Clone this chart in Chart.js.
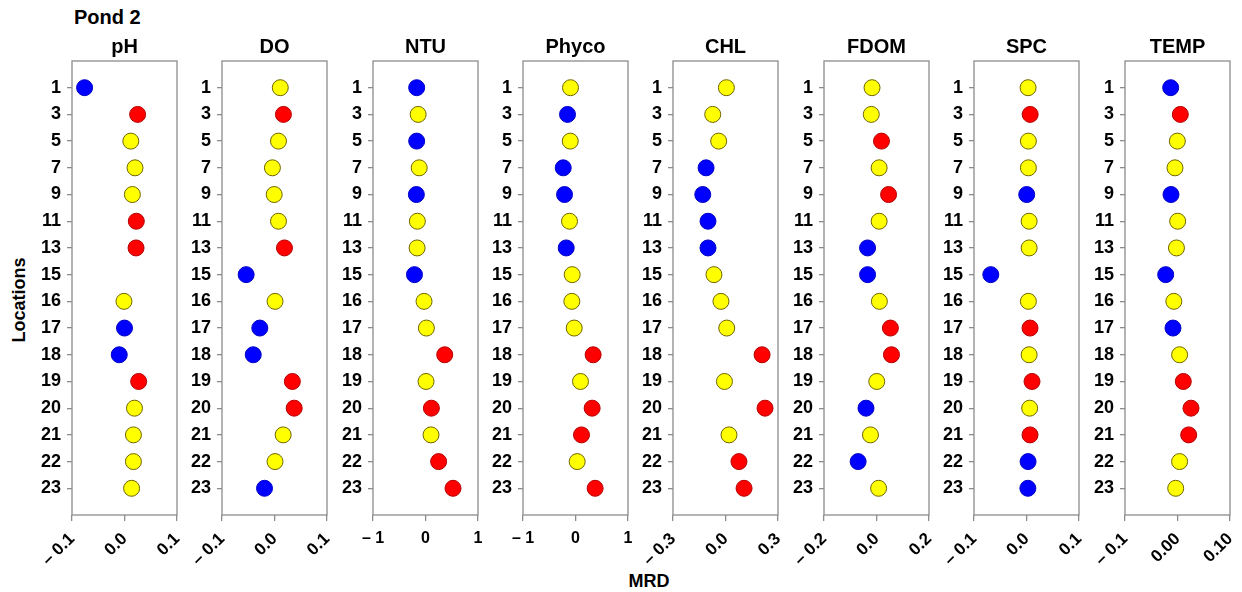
<!DOCTYPE html>
<html>
<head>
<meta charset="utf-8">
<script src="https://cdn.jsdelivr.net/npm/chart.js@4"></script>
<style>
  body { margin:0; background:#fff; font-family:"Liberation Sans", Arial, sans-serif; }
  #lienzo { position:relative; width:1242px; height:592px; overflow:hidden; }
  .panel { position:absolute; top:0; }
  .texto { position:absolute; font-weight:bold; color:#000; white-space:nowrap; }
</style>
</head>
<body>
<div id="lienzo">
  <div class="texto" style="left:74px; top:6px; font-size:20px;">Pond 2</div>
  <div class="texto" style="left:19px; top:300px; font-size:18px; transform:translate(-50%,-50%) rotate(-90deg);">Locations</div>
  <div class="texto" style="left:649px; top:581px; font-size:18px; transform:translate(-50%,-50%);">MRD</div>
</div>
<script>
// ubicaciones (eje y)
const ubicaciones = ['1','3','5','7','9','11','13','15','16','17','18','19','20','21','22','23']

// MRD por variable (null = sin dato)
const mrd_pH    = [-0.076, 0.025, 0.012, 0.020, 0.015, 0.0225, 0.022, null, -0.001, 0.000, -0.010, 0.027, 0.019, 0.017, 0.017, 0.0135]
const mrd_DO    = [0.011, 0.017, 0.0076, -0.004, -0.0006, 0.0076, 0.019, -0.054, 0.001, -0.028, -0.0405, 0.034, 0.0375, 0.0165, 0.001, -0.019]
const mrd_NTU   = [-0.168, -0.14, -0.168, -0.12, -0.174, -0.155, -0.16, -0.21, -0.028, 0.017, 0.366, 0.01, 0.112, 0.105, 0.25, 0.524]
const mrd_Phyco = [-0.095, -0.152, -0.10, -0.234, -0.209, -0.114, -0.177, -0.063, -0.07, -0.025, 0.336, 0.095, 0.317, 0.114, 0.032, 0.374]
const mrd_CHL   = [0.005, -0.073, -0.039, -0.111, -0.130, -0.1, -0.1, -0.066, -0.026, 0.007, 0.209, -0.006, 0.226, 0.02, 0.077, 0.106]
const mrd_FDOM  = [-0.017, -0.02, 0.019, 0.01, 0.046, 0.01, -0.034, -0.034, 0.011, 0.053, 0.057, 0.001, -0.04, -0.023, -0.07, 0.008]
const mrd_SPC   = [0.003, 0.007, 0.0036, 0.0036, 0.0004, 0.005, 0.005, -0.068, 0.0036, 0.0067, 0.005, 0.0105, 0.006, 0.0067, 0.003, 0.0026]
const mrd_TEMP  = [-0.013, 0.0054, -0.0003, -0.0048, -0.0124, 0.0003, -0.002, -0.0225, -0.007, -0.0086, 0.004, 0.011, 0.0257, 0.0213, 0.004, -0.0034]

// grupo: -1 = bajo, 0 = normal, 1 = alto
const grupo_pH    = [-1, 1, 0, 0, 0, 1, 1, null, 0, -1, -1, 1, 0, 0, 0, 0]
const grupo_DO    = [0, 1, 0, 0, 0, 0, 1, -1, 0, -1, -1, 1, 1, 0, 0, -1]
const grupo_NTU   = [-1, 0, -1, 0, -1, 0, 0, -1, 0, 0, 1, 0, 1, 0, 1, 1]
const grupo_Phyco = [0, -1, 0, -1, -1, 0, -1, 0, 0, 0, 1, 0, 1, 1, 0, 1]
const grupo_CHL   = [0, 0, 0, -1, -1, -1, -1, 0, 0, 0, 1, 0, 1, 0, 1, 1]
const grupo_FDOM  = [0, 0, 1, 0, 1, 0, -1, -1, 0, 1, 1, 0, -1, 0, -1, 0]
const grupo_SPC   = [0, 1, 0, 0, -1, 0, 0, -1, 0, 1, 0, 1, 0, 1, -1, -1]
const grupo_TEMP  = [-1, 1, 0, 0, -1, 0, 0, -1, 0, -1, 0, 1, 1, 1, 0, 0]

// titulos y ejes x
const titulos = ['pH','DO','NTU','Phyco','CHL','FDOM','SPC','TEMP']
const ticks_x = [
    [-0.1, 0, 0.1], [-0.1, 0, 0.1], [-1, 0, 1], [-1, 0, 1],
    [-0.3, 0, 0.3], [-0.2, 0, 0.2], [-0.1, 0, 0.1], [-0.1, 0, 0.1]
]
const etiquetas_x = [
    ['\u2013 0.1','0.0','0.1'], ['\u2013 0.1','0.0','0.1'], ['\u2013 1','0','1'], ['\u2013 1','0','1'],
    ['\u2013 0.3','0.0','0.3'], ['\u2013 0.2','0.0','0.2'], ['\u2013 0.1','0.0','0.1'], ['\u2013 0.1','0.00','0.10']
]

const valores = [mrd_pH, mrd_DO, mrd_NTU, mrd_Phyco, mrd_CHL, mrd_FDOM, mrd_SPC, mrd_TEMP]
const grupos = [grupo_pH, grupo_DO, grupo_NTU, grupo_Phyco, grupo_CHL, grupo_FDOM, grupo_SPC, grupo_TEMP]

const relleno = {'-1':'#0000ff', '0':'#ffff00', '1':'#ff0000'}
const borde = {'-1':'#0000c8', '0':'#6e6400', '1':'#b40000'}
const izquierdas = [71.7, 221.7, 372.5, 522.7, 673.3, 824, 974.3, 1125]
const ANCHO_Y = 60, ANCHO_CAJA = 105, DER = 15
const fuente = '"Liberation Sans", Arial, sans-serif'

// marco alrededor del area del grafico
const caja = {
    id: 'caja',
    afterDraw(chart){
        const a = chart.chartArea
        const c = chart.ctx
        c.save()
        c.strokeStyle = '#8c8c8c'
        c.lineWidth = 1.3
        c.strokeRect(a.left, a.top, a.right - a.left, a.bottom - a.top)
        c.restore()
    }
}

function panel(i){
    const div = document.createElement('div')
    div.className = 'panel'
    div.style.left = (izquierdas[i] - ANCHO_Y) + 'px'
    const canvas = document.createElement('canvas')
    canvas.width = ANCHO_Y + ANCHO_CAJA + DER
    canvas.height = 592
    div.appendChild(canvas)
    document.getElementById('lienzo').appendChild(div)

    const puntos = []
    const fondos = []
    const bordes = []
    valores[i].forEach((v, k) => {
        if (v === null) return
        puntos.push({x: v, y: k})
        fondos.push(relleno[grupos[i][k]])
        bordes.push(borde[grupos[i][k]])
    })
    const tx = ticks_x[i]
    const rot = (i === 2 || i === 3) ? 0 : 45

    new Chart(canvas, {
        type: 'scatter',
        data: {
            datasets: [{
                data: puntos,
                pointRadius: 8,
                pointHoverRadius: 8,
                pointBackgroundColor: fondos,
                pointBorderColor: bordes,
                pointBorderWidth: 1,
                clip: false
            }]
        },
        options: {
            responsive: false,
            animation: false,
            events: [],
            layout: {padding: {left: 0, right: DER, top: 0, bottom: 0}},
            plugins: {
                legend: {display: false},
                tooltip: {enabled: false},
                title: {
                    display: true,
                    text: titulos[i],
                    fullSize: false,
                    color: '#000',
                    font: {family: fuente, size: 20, weight: 'bold', lineHeight: 1},
                    padding: {top: 37, bottom: 4}
                }
            },
            scales: {
                x: {
                    type: 'linear',
                    min: tx[0],
                    max: tx[2],
                    afterBuildTicks: s => { s.ticks = tx.map(v => ({value: v})) },
                    afterFit: s => { s.height = 77; s.paddingLeft = 0; s.paddingRight = 0 },
                    border: {display: false},
                    grid: {drawOnChartArea: false, drawTicks: true, tickLength: 6, color: '#8c8c8c', lineWidth: 1.3},
                    ticks: {
                        color: '#000',
                        font: {family: fuente, size: rot ? 17 : 16, weight: 'bold'},
                        maxRotation: rot,
                        minRotation: rot,
                        padding: 8,
                        callback: (v, idx) => etiquetas_x[i][idx]
                    }
                },
                y: {
                    type: 'linear',
                    reverse: true,
                    min: -1,
                    max: ubicaciones.length,
                    afterBuildTicks: s => { s.ticks = ubicaciones.map((u, k) => ({value: k})) },
                    afterFit: s => { s.width = ANCHO_Y },
                    border: {display: false},
                    grid: {drawOnChartArea: false, drawTicks: true, tickLength: 5, color: '#8c8c8c', lineWidth: 1.3},
                    ticks: {
                        color: '#000',
                        font: {family: fuente, size: 18, weight: 'bold'},
                        padding: 6,
                        callback: v => ubicaciones[v]
                    }
                }
            }
        },
        plugins: [caja]
    })
}

for (let i = 0; i < titulos.length; i++) panel(i)
</script>
</body>
</html>
